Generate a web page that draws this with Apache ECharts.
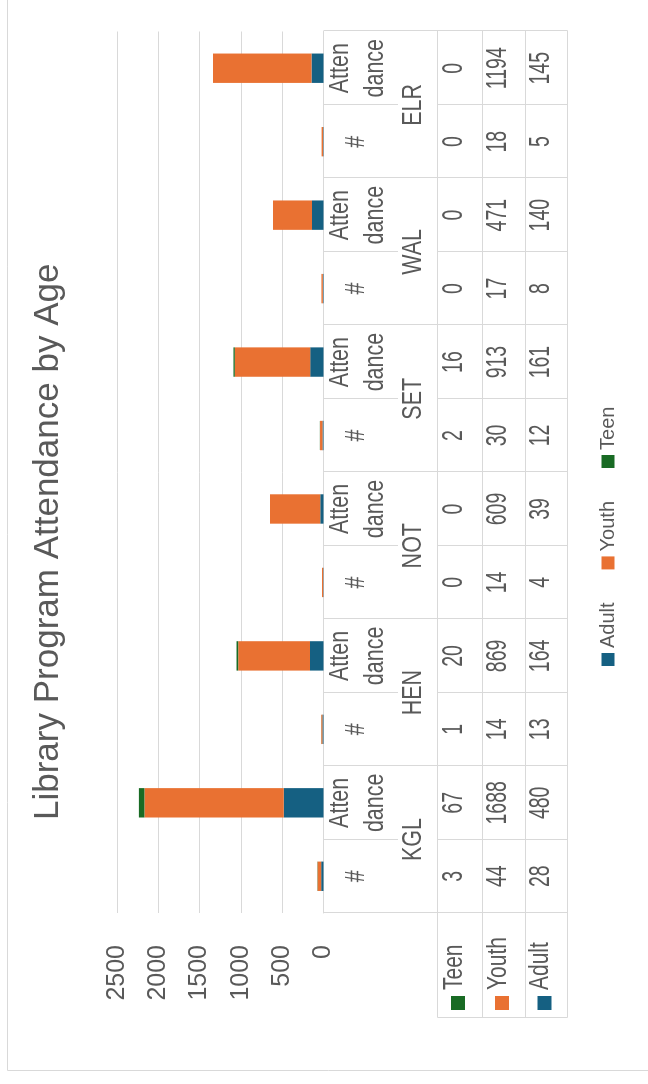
<!DOCTYPE html>
<html>
<head>
<meta charset="utf-8">
<script src="https://cdn.jsdelivr.net/npm/echarts@6/dist/echarts.min.js"></script>
<style>
  html, body { margin: 0; padding: 0; background: #fff; overflow: hidden; }
  /* chart is drawn landscape, then turned to read bottom-to-top */
  #chart {
    position: absolute; left: 0; top: 0;
    width: 1084px; height: 648px;
    transform-origin: 0 0;
    transform: translate(0, 1084px) rotate(-90deg);
  }
</style>
</head>
<body>
<div id="chart"></div>
<script>
  const stations = ['KGL', 'HEN', 'NOT', 'SET', 'WAL', 'ELR'];
  const measures = ['#', 'Attendance'];
  const categories = [];
  stations.forEach(s => measures.forEach(m => categories.push(s + ' ' + m)));

  const teen  = [3, 67, 1, 20, 0, 0, 2, 16, 0, 0, 0, 0];
  const youth = [44, 1688, 14, 869, 14, 609, 30, 913, 17, 471, 18, 1194];
  const adult = [28, 480, 13, 164, 4, 39, 12, 161, 8, 140, 5, 145];

  const rowNames = ['Teen', 'Youth', 'Adult'];
  const rowValues = [teen, youth, adult];
  const colors = {Teen: '#196B24', Youth: '#E97132', Adult: '#156082'};

  const textColor = '#595959';
  const lineColor = '#D9D9D9';
  const font = 'Liberation Sans';

  let chart = echarts.init(document.getElementById('chart'));

  chart.setOption({
    animation: false,
    title: {
      text: 'Library Program Attendance by Age',
      left: 259,
      top: 26,
      textStyle: {fontFamily: font, fontSize: 35, fontWeight: 'normal', color: textColor}
    },
    legend: {
      data: ['Adult', 'Youth', 'Teen'],
      left: 413,
      top: 593,
      icon: 'rect',
      itemWidth: 13,
      itemHeight: 13,
      itemGap: 33,
      textStyle: {fontFamily: font, fontSize: 20, color: textColor}
    },
    grid: {left: 171, right: 31.5, top: 117, bottom: 324.5, outerBoundsMode: 'none'},
    xAxis: {
      type: 'category',
      data: categories,
      axisLabel: {show: false},
      axisTick: {show: false},
      axisLine: {lineStyle: {color: lineColor, width: 1}}
    },
    yAxis: {
      type: 'value',
      min: 0,
      max: 2500,
      interval: 500,
      axisLine: {show: false},
      axisTick: {show: false},
      splitLine: {lineStyle: {color: lineColor, width: 1}},
      axisLabel: {
        margin: 32,
        color: textColor,
        fontSize: 25,
        fontFamily: '"Liberation Sans Narrow", "Liberation Sans"',
        formatter: v => String(v)
      }
    },
    series: [
      {name: 'Adult', type: 'bar', stack: 'all', barWidth: '40%', data: adult, itemStyle: {color: colors.Adult}},
      {name: 'Youth', type: 'bar', stack: 'all', barWidth: '40%', data: youth, itemStyle: {color: colors.Youth}},
      {name: 'Teen', type: 'bar', stack: 'all', barWidth: '40%', data: teen, itemStyle: {color: colors.Teen}}
    ]
  });

  // data table under the plot, aligned to the category axis
  function txt(s, x, y, size, sy, align) {
    return {
      type: 'text', x: x, y: y, scaleY: sy, silent: true,
      style: {
        text: s, x: 0, y: 0, fill: textColor, fontSize: size, fontFamily: font,
        align: align || 'center', verticalAlign: 'middle',
        textAlign: align || 'center', textVerticalAlign: 'middle'
      }
    };
  }
  function line(x1, y1, x2, y2) {
    return {type: 'line', silent: true, shape: {x1, y1, x2, y2}, style: {stroke: lineColor, lineWidth: 1}};
  }

  function buildTable() {
    const c = categories.map((_, i) => chart.convertToPixel({xAxisIndex: 0}, i));
    const bw = c[1] - c[0];
    const top = chart.convertToPixel({yAxisIndex: 0}, 0);
    const rowEdges = [437.5, 482.5, 525.5, 567.5];
    const headSplit = 398;
    const labelLeft = 66.5;
    const els = [];

    els.push({type: 'rect', silent: true, shape: {x: 13.5, y: 7.5, width: 1200, height: 800},
      style: {fill: 'none', stroke: lineColor, lineWidth: 1}});

    const right = Math.round(c[11] + bw / 2) + 0.5;
    rowEdges.forEach(v => els.push(line(labelLeft, v, right, v)));
    els.push(line(labelLeft, rowEdges[0], labelLeft, rowEdges[3]));

    for (let k = 0; k <= categories.length; k++) {
      const u = Math.round(c[0] - bw / 2 + k * bw) + 0.5;
      if (k % 2 === 0) {
        els.push(line(u, top, u, rowEdges[3]));
      } else {
        els.push(line(u, top, u, headSplit));
        els.push(line(u, rowEdges[0], u, rowEdges[3]));
      }
    }

    categories.forEach((name, i) => {
      if (i % 2 === 0) {
        els.push(txt('#', c[i], 356, 21.5, 1.3));
        els.push(txt(stations[i / 2], (c[i] + c[i + 1]) / 2, 413, 21.5, 1.3));
      } else {
        els.push(txt('Atten', c[i], 340, 21.5, 1.28));
        els.push(txt('dance', c[i], 375, 21.5, 1.28));
      }
      rowValues.forEach((vals, r) => {
        const mid = (rowEdges[r] + rowEdges[r + 1]) / 2 - 6;
        els.push(txt(String(vals[i]), c[i], mid, 19.5, 1.5));
      });
    });

    rowNames.forEach((n, r) => {
      const mid = (rowEdges[r] + rowEdges[r + 1]) / 2;
      els.push({type: 'rect', silent: true, shape: {x: 74, y: mid - 9, width: 14, height: 14},
        style: {fill: colors[n]}});
      els.push(txt(n, 94, mid - 6, 21, 1.35, 'left'));
    });

    chart.setOption({graphic: {elements: els}});
  }

  buildTable();
</script>
</body>
</html>
